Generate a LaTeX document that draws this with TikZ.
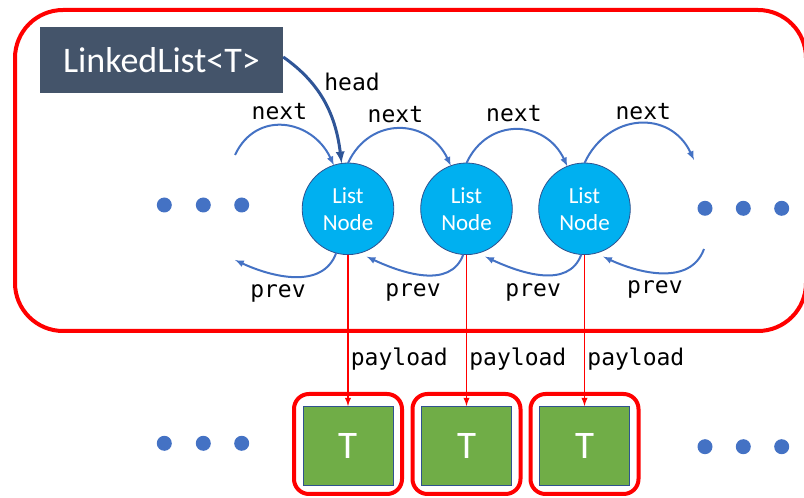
\documentclass[tikz,border=0pt]{standalone}
\usepackage{fontspec}
\setmainfont{Carlito}
\newfontfamily\codefont{DejaVu Sans Mono}
\usetikzlibrary{arrows}
\definecolor{boxslate}{HTML}{44546A}
\definecolor{nodecyan}{HTML}{00B0F0}
\definecolor{edgeblue}{HTML}{2F528F}
\definecolor{linkblue}{HTML}{4472C4}
\definecolor{headblue}{HTML}{2F5597}
\definecolor{payloadgreen}{HTML}{70AD47}
\begin{document}
\begin{tikzpicture}[x=1pt,y=1pt,>=latex,
		listbox/.style = {fill=boxslate,minimum width=243pt,minimum height=66pt,text=white,font=\fontsize{36}{36}\selectfont},
		listnode/.style = {draw=edgeblue,line width=0.8pt,fill=nodecyan,circle,minimum size=91.6pt,inner sep=0pt,outer sep=0pt,text=white,align=center,font=\fontsize{23}{27}\selectfont},
		tnode/.style = {draw=edgeblue,line width=0.8pt,fill=payloadgreen,minimum width=90pt,minimum height=79pt,inner sep=0pt,outer sep=0pt,text=white,font=\fontsize{39}{39}\selectfont},
		tframe/.style = {draw=red,line width=4pt,rounded corners=15pt,minimum width=108pt,minimum height=100pt},
		dot/.style = {fill=linkblue,circle,minimum size=15pt,inner sep=0pt},
		link/.style = {linkblue,line width=2pt},
		codelabel/.style = {text=black,font=\codefont\fontsize{23}{23}\selectfont,inner sep=2pt}
		]
		\useasboundingbox (0,0) rectangle (804,498);
		%CONTENITORE
		\draw[red,line width=4pt,rounded corners=48pt] (15,488) rectangle (806,167);
		\node[listbox] (list) at (161.5,438) {LinkedList<T>};
		%NODI
		\node[listnode] (c1) at (348,289.2) {List\\Node};
		\node[listnode] (c2) at (466.5,289.2) {List\\Node};
		\node[listnode] (c3) at (584.5,289.2) {List\\Node};
		%PUNTINI
		\node[dot] (l1) at (164.3,293) {};
		\node[dot] (l2) at (203.3,293) {};
		\node[dot] (l3) at (241.7,293) {};
		\node[dot] (r1) at (705,289.7) {};
		\node[dot] (r2) at (743.3,289.7) {};
		\node[dot] (r3) at (781.7,289.7) {};
		\node[dot] (bl1) at (164.3,54.7) {};
		\node[dot] (bl2) at (203.3,54.7) {};
		\node[dot] (bl3) at (241.7,54.7) {};
		\node[dot] (br1) at (705,51.3) {};
		\node[dot] (br2) at (743.3,51.3) {};
		\node[dot] (br3) at (781.7,51.3) {};
		%PAYLOAD
		\node[tframe] (f1) at (348,54) {};
		\node[tframe] (f2) at (466.5,54) {};
		\node[tframe] (f3) at (584.5,54) {};
		\node[tnode] (t1) at (348,52.5) {T};
		\node[tnode] (t2) at (466.5,52.5) {T};
		\node[tnode] (t3) at (584.5,52.5) {T};
		%ESTREMI LIBERI
		\coordinate (n0) at (235,343);
		\coordinate (n4) at (694,338);
		\coordinate (p0) at (235,238);
		\coordinate (p4) at (704,249);
		%HEAD
		\draw[->,headblue,line width=3pt] ([yshift=3pt]list.east) to[out=-35,in=97] (c1.98);
		\node[codelabel] (headlbl) at (352,416) {head};
		%NEXT
		\draw[link,->] (n0) to[out=65,in=115,looseness=1.3] node[codelabel,above=3pt,xshift=-5pt] {next} (c1.108);
		\draw[link,->] (c1.90) to[out=65,in=115,looseness=1.3] node[codelabel,above=3pt,xshift=-4pt] {next} (c2.110);
		\draw[link,->] (c2.90) to[out=65,in=115,looseness=1.3] node[codelabel,above=5pt,xshift=-3pt] {next} (c3.112);
		\draw[link,->] (c3.90) to[out=65,in=115,looseness=1.3] node[codelabel,above=1pt,xshift=4pt] {next} (n4);
		%PREV
		\draw[link,->] (c1.-105) to[out=-110,in=-25] node[codelabel,below=5pt,xshift=-16pt] {prev} (p0);
		\draw[link,->] (c2.-94) to[out=-110,in=-25] node[codelabel,below=6pt,xshift=-10pt] {prev} ([shift={(0,-6)}]c1.-66);
		\draw[link,->] (c3.-94) to[out=-110,in=-25] node[codelabel,below=6pt,xshift=-8pt] {prev} ([shift={(0,-6)}]c2.-66);
		\draw[link,->] (p4) to[out=-110,in=-25] node[codelabel,below=5pt,xshift=-7pt] {prev} ([shift={(0,-6)}]c3.-66);
		%PUNTATORI AL PAYLOAD
		\draw[->,red,line width=1.8pt] (c1.south) -- (t1.north) node[codelabel,pos=0.69,right] {payload};
		\draw[->,red,line width=1.8pt] (c2.south) -- (t2.north) node[codelabel,pos=0.69,right] {payload};
		\draw[->,red,line width=1.8pt] (c3.south) -- (t3.north) node[codelabel,pos=0.69,right] {payload};
	\end{tikzpicture}
\end{document}
